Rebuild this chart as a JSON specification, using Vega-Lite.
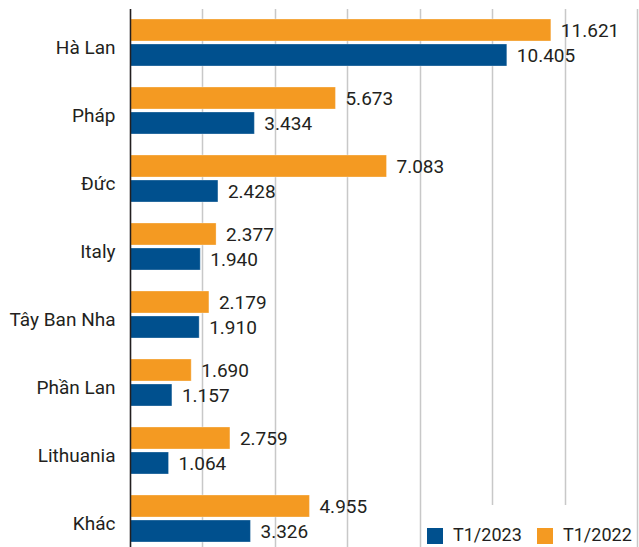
{
  "$schema": "https://vega.github.io/schema/vega-lite/v6.json",
  "width": 507,
  "height": 544,
  "autosize": "none",
  "padding": {"left": 130, "top": 8.5, "right": 2, "bottom": 0},
  "background": "white",
  "config": {
    "view": {"stroke": null},
    "font": "Roboto",
    "text": {"font": "Roboto"}
  },
  "data": {
    "values": [
      {"country": "Hà Lan", "series": "T1/2022", "value": 11.621},
      {"country": "Hà Lan", "series": "T1/2023", "value": 10.405},
      {"country": "Pháp", "series": "T1/2022", "value": 5.673},
      {"country": "Pháp", "series": "T1/2023", "value": 3.434},
      {"country": "Đức", "series": "T1/2022", "value": 7.083},
      {"country": "Đức", "series": "T1/2023", "value": 2.428},
      {"country": "Italy", "series": "T1/2022", "value": 2.377},
      {"country": "Italy", "series": "T1/2023", "value": 1.940},
      {"country": "Tây Ban Nha", "series": "T1/2022", "value": 2.179},
      {"country": "Tây Ban Nha", "series": "T1/2023", "value": 1.910},
      {"country": "Phần Lan", "series": "T1/2022", "value": 1.690},
      {"country": "Phần Lan", "series": "T1/2023", "value": 1.157},
      {"country": "Lithuania", "series": "T1/2022", "value": 2.759},
      {"country": "Lithuania", "series": "T1/2023", "value": 1.064},
      {"country": "Khác", "series": "T1/2022", "value": 4.955},
      {"country": "Khác", "series": "T1/2023", "value": 3.326}
    ]
  },
  "encoding": {
    "y": {
      "field": "country",
      "type": "nominal",
      "sort": ["Hà Lan", "Pháp", "Đức", "Italy", "Tây Ban Nha", "Phần Lan", "Lithuania", "Khác"],
      "scale": {"paddingInner": 0.309, "paddingOuter": 0.1545},
      "axis": {
        "title": null,
        "ticks": false,
        "labelPadding": 15,
        "labelFontSize": 19,
        "labelColor": "#231f20",
        "labelOffset": 5,
        "domainColor": "#231f20",
        "domainWidth": 1.5,
        "zindex": 2
      }
    },
    "yOffset": {
      "field": "series",
      "type": "nominal",
      "scale": {"domain": ["T1/2022", "T1/2023"], "paddingInner": 0.12, "paddingOuter": 0}
    },
    "x": {
      "field": "value",
      "type": "quantitative",
      "scale": {"domain": [0, 14], "nice": false},
      "axis": {
        "title": null,
        "labels": false,
        "ticks": false,
        "domain": false,
        "values": [0, 2, 4, 6, 8, 10, 12, 14],
        "gridColor": "#c8c8c8",
        "gridWidth": 1.5
      }
    }
  },
  "layer": [
    {
      "mark": {"type": "bar", "stroke": "#ffffff", "strokeWidth": 0.6, "strokeOpacity": 0.5},
      "encoding": {
        "color": {
          "field": "series",
          "type": "nominal",
          "scale": {"domain": ["T1/2023", "T1/2022"], "range": ["#00508e", "#f49a22"]},
          "legend": {
            "title": "T",
            "titleColor": "white",
            "titleFontSize": 14,
            "titlePadding": 4,
            "orient": "none",
            "legendX": 292,
            "legendY": 496.5,
            "direction": "horizontal",
            "fillColor": "white",
            "padding": 4,
            "symbolType": "square",
            "symbolSize": 256,
            "symbolStrokeWidth": 0,
            "labelFontSize": 18,
            "labelColor": "#231f20",
            "labelOffset": 9,
            "columnPadding": 14
          }
        }
      }
    },
    {
      "mark": {"type": "text", "align": "left", "baseline": "middle", "dx": 10, "dy": 1, "fontSize": 19, "color": "#231f20"},
      "encoding": {
        "text": {"field": "value", "type": "quantitative", "format": ".3f"}
      }
    }
  ]
}
